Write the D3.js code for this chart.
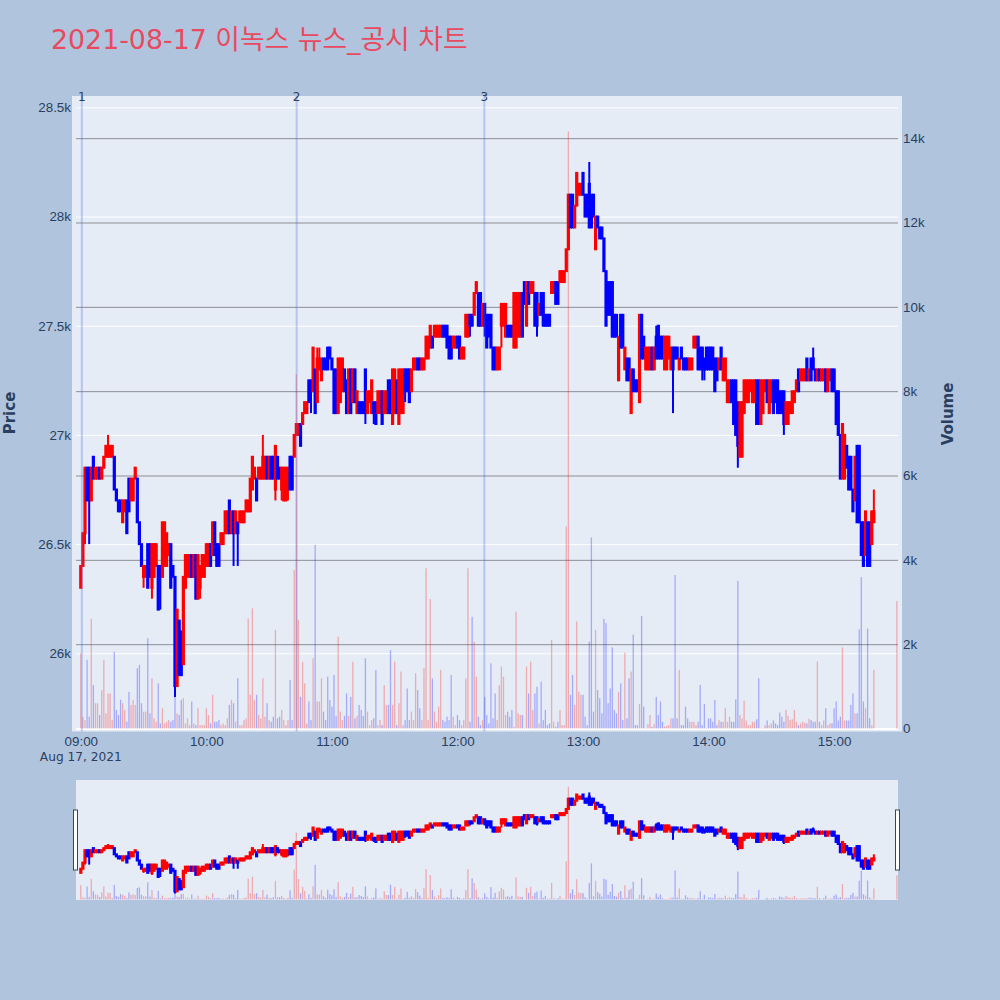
<!DOCTYPE html>
<html><head><meta charset="utf-8">
<script src="https://cdn.jsdelivr.net/npm/d3@7"></script>
<style>
body{margin:0;background:#b0c4de;}
svg{display:block;font-family:"DejaVu Sans","Noto Sans CJK KR",sans-serif;}
</style>
</head><body>
<svg id="chart" width="1000" height="1000"></svg>
<script>
// ---------------- DATA ----------------
const title = "2021-08-17 이녹스 뉴스_공시 차트";
const sessionStart = "2021-08-17 09:00";   // first 1-minute candle, then one candle per minute
const lastTime = "2021-08-17 15:30";       // closing auction candle (last entry of each array)

const open = [
26300,26400,26550,26850,26850,26700,26900,26800,26800,26850,
26800,26850,26900,26900,26900,26900,26900,26750,26700,26700,
26600,26650,26700,26800,26700,26700,26800,26800,26600,26500,
26350,26350,26500,26500,26300,26350,26400,26400,26400,26350,
26400,26400,26450,26500,26400,26350,25850,26150,26100,25950,
26300,26350,26350,26450,26350,26450,26250,26300,26350,26350,
26400,26400,26500,26450,26600,26500,26500,26500,26500,26550,
26550,26700,26550,26650,26550,26600,26600,26600,26600,26650,
26650,26650,26750,26800,26800,26800,26800,26800,26800,26900,
26800,26900,26900,26750,26900,26850,26750,26700,26700,26750,
26900,26900,26900,27000,27000,27050,27050,27100,27100,27250,
27250,27200,27300,27150,27300,27250,27350,27350,27400,27400,
27350,27300,27300,27100,27150,27200,27300,27250,27100,27300,
27150,27300,27100,27150,27150,27150,27300,27100,27150,27100,
27150,27150,27100,27100,27200,27100,27100,27250,27250,27050,
27100,27250,27050,27100,27100,27300,27300,27300,27200,27300,
27300,27350,27350,27300,27300,27350,27350,27400,27450,27450,
27450,27450,27450,27500,27500,27500,27450,27450,27400,27400,
27450,27450,27350,27350,27450,27450,27550,27550,27550,27650,
27650,27650,27500,27600,27550,27550,27550,27400,27400,27300,
27300,27500,27500,27450,27500,27500,27500,27400,27400,27450,
27450,27650,27700,27500,27700,27650,27650,27650,27650,27550,
27650,27650,27550,27550,27550,27650,27650,27700,27700,27700,
27700,27700,27750,27850,28100,28100,27950,28050,28100,28100,
28200,28100,28100,28150,28100,28100,27850,28000,27950,27950,
27900,27750,27700,27700,27700,27550,27550,27250,27550,27550,
27300,27350,27350,27100,27300,27250,27250,27150,27550,27450,
27300,27300,27300,27400,27300,27450,27500,27450,27450,27300,
27300,27350,27300,27400,27400,27400,27300,27400,27350,27350,
27350,27300,27300,27400,27400,27450,27400,27400,27350,27400,
27400,27400,27400,27350,27350,27300,27400,27250,27250,27150,
27150,27250,27250,27250,27150,26900,26900,27100,27150,27150,
27200,27150,27150,27250,27250,27050,27100,27200,27250,27100,
27150,27250,27250,27250,27200,27200,27200,27050,27050,27100,
27100,27150,27200,27300,27250,27250,27250,27350,27250,27350,
27350,27300,27250,27300,27250,27250,27300,27200,27250,27300,
27300,27200,27200,27000,26800,26800,26950,26900,26900,26750,
26700,26950,26950,26600,26600,26450,26600,26600,26500,26600,
26700];

const high = [
26400,26550,26850,26850,26850,26850,26900,26850,26850,26850,
26850,26900,26950,27000,26950,26950,26900,26750,26700,26700,
26700,26700,26700,26800,26800,26800,26850,26800,26600,26500,
26400,26400,26500,26500,26500,26500,26500,26400,26400,26600,
26600,26550,26500,26500,26400,26350,26200,26150,26100,26350,
26450,26450,26450,26450,26450,26450,26450,26400,26450,26450,
26500,26500,26500,26600,26600,26500,26500,26550,26550,26650,
26650,26700,26650,26650,26650,26600,26650,26650,26650,26700,
26700,26800,26900,26850,26800,26850,26850,27000,26900,26900,
26900,26900,26900,26950,26900,26850,26850,26850,26850,26850,
26900,26900,27000,27050,27050,27050,27100,27150,27150,27250,
27250,27400,27300,27400,27400,27350,27350,27350,27400,27400,
27350,27300,27300,27350,27350,27350,27300,27250,27300,27300,
27300,27300,27200,27150,27150,27150,27300,27200,27200,27250,
27150,27150,27200,27200,27200,27200,27200,27250,27250,27300,
27300,27250,27300,27300,27300,27300,27300,27300,27300,27350,
27350,27350,27350,27350,27350,27450,27450,27500,27450,27500,
27500,27500,27500,27500,27500,27500,27450,27450,27450,27450,
27450,27450,27400,27400,27550,27550,27550,27550,27650,27700,
27650,27650,27600,27600,27550,27550,27550,27400,27400,27400,
27400,27600,27600,27600,27500,27500,27500,27650,27650,27650,
27650,27650,27700,27700,27700,27700,27700,27650,27650,27600,
27650,27650,27550,27550,27550,27700,27700,27700,27700,27750,
27750,27750,27850,28100,28100,28100,28050,28200,28150,28150,
28200,28100,28100,28250,28100,28100,28000,28000,27950,27950,
27900,27750,27700,27700,27700,27550,27550,27450,27550,27550,
27400,27350,27350,27300,27300,27250,27250,27550,27550,27450,
27400,27400,27400,27400,27400,27500,27500,27450,27450,27450,
27450,27450,27400,27400,27400,27400,27350,27400,27350,27350,
27350,27350,27350,27450,27450,27450,27400,27400,27350,27400,
27400,27400,27400,27350,27350,27350,27400,27350,27350,27250,
27250,27250,27250,27250,27150,27150,27150,27250,27250,27250,
27250,27250,27250,27250,27250,27250,27250,27250,27250,27250,
27250,27250,27250,27250,27200,27200,27200,27150,27150,27150,
27200,27200,27250,27300,27300,27300,27300,27350,27300,27350,
27400,27300,27300,27300,27300,27300,27300,27300,27300,27300,
27300,27200,27200,27000,27050,27000,26950,26900,26900,26750,
26900,26950,26950,26600,26600,26650,26600,26600,26650,26750,
26700];

const low = [
26300,26400,26500,26700,26500,26700,26800,26800,26800,26800,
26800,26850,26900,26900,26900,26900,26750,26700,26650,26650,
26600,26650,26550,26650,26700,26700,26800,26600,26500,26400,
26300,26350,26300,26350,26250,26350,26400,26200,26200,26350,
26400,26400,26450,26300,26350,25800,25850,25900,25900,25950,
26300,26350,26350,26350,26350,26250,26250,26250,26350,26350,
26400,26400,26400,26450,26450,26400,26400,26500,26500,26550,
26550,26550,26550,26400,26550,26400,26600,26600,26600,26650,
26650,26650,26750,26800,26700,26800,26800,26800,26800,26800,
26800,26800,26800,26700,26800,26800,26700,26700,26700,26700,
26750,26750,26900,27000,27000,26950,27050,27100,27100,27150,
27100,27200,27100,27150,27300,27250,27300,27300,27300,27350,
27300,27100,27100,27100,27150,27200,27200,27100,27100,27100,
27150,27150,27100,27100,27100,27100,27050,27100,27150,27100,
27050,27050,27100,27100,27050,27100,27100,27100,27100,27050,
27100,27100,27050,27100,27100,27150,27200,27150,27200,27300,
27300,27300,27300,27300,27300,27350,27350,27400,27400,27450,
27450,27450,27450,27450,27450,27400,27350,27350,27400,27400,
27400,27350,27350,27350,27450,27450,27450,27500,27550,27650,
27500,27500,27500,27450,27400,27450,27400,27300,27300,27300,
27300,27400,27500,27450,27450,27450,27450,27400,27400,27450,
27450,27450,27600,27500,27600,27650,27650,27500,27450,27550,
27550,27500,27500,27500,27500,27650,27650,27600,27600,27700,
27700,27700,27750,27850,27950,27950,27950,28050,28100,28100,
28100,28000,28000,27950,27950,28000,27850,27950,27900,27900,
27750,27500,27550,27550,27450,27450,27450,27250,27400,27400,
27300,27250,27250,27100,27200,27200,27200,27150,27350,27350,
27300,27300,27300,27300,27300,27350,27350,27350,27350,27300,
27300,27350,27300,27100,27350,27350,27300,27350,27300,27300,
27300,27300,27300,27400,27400,27300,27300,27250,27250,27300,
27300,27300,27300,27200,27250,27300,27300,27250,27250,27150,
27150,27150,27050,27000,26850,26900,26900,27100,27150,27150,
27200,27150,27150,27050,27050,27050,27100,27200,27150,27100,
27150,27100,27150,27100,27100,27100,27000,27050,27050,27100,
27100,27150,27200,27200,27250,27250,27250,27250,27250,27250,
27300,27250,27250,27250,27250,27250,27200,27200,27250,27200,
27200,27050,27000,26800,26800,26800,26850,26750,26750,26650,
26700,26600,26600,26450,26400,26450,26400,26400,26500,26600,
26700];

const close = [
26400,26550,26850,26700,26700,26850,26800,26850,26850,26800,
26850,26900,26950,26950,26950,26950,26750,26700,26650,26650,
26700,26700,26550,26650,26800,26800,26850,26600,26500,26400,
26400,26400,26300,26350,26500,26500,26500,26200,26350,26600,
26600,26550,26500,26300,26350,25850,26200,25900,25900,26350,
26450,26450,26450,26350,26450,26250,26450,26400,26450,26450,
26500,26500,26400,26600,26450,26400,26400,26550,26550,26650,
26650,26550,26650,26550,26650,26550,26650,26650,26650,26700,
26700,26800,26900,26850,26700,26850,26850,26900,26900,26800,
26900,26800,26800,26950,26800,26800,26850,26850,26850,26850,
26750,26750,27000,27050,27050,26950,27100,27150,27150,27150,
27200,27400,27100,27350,27350,27350,27300,27300,27300,27350,
27300,27100,27100,27350,27350,27350,27200,27100,27300,27100,
27300,27150,27200,27100,27100,27100,27100,27200,27200,27250,
27100,27050,27200,27200,27050,27200,27200,27100,27100,27300,
27300,27100,27300,27300,27300,27200,27200,27150,27300,27350,
27350,27300,27300,27350,27350,27450,27450,27500,27400,27500,
27500,27500,27500,27450,27450,27400,27350,27350,27450,27450,
27400,27350,27400,27400,27550,27550,27500,27500,27650,27700,
27500,27500,27600,27500,27400,27450,27400,27300,27300,27400,
27400,27600,27600,27600,27450,27450,27450,27650,27650,27650,
27650,27450,27600,27700,27600,27700,27700,27500,27500,27600,
27550,27500,27500,27500,27500,27700,27700,27600,27600,27750,
27750,27750,27850,28100,27950,27950,28050,28200,28150,28150,
28100,28000,28000,27950,27950,28000,28000,27950,27900,27900,
27750,27500,27550,27550,27450,27450,27450,27450,27400,27400,
27400,27250,27250,27300,27200,27200,27200,27550,27350,27350,
27400,27400,27400,27300,27400,27350,27350,27350,27350,27450,
27450,27450,27400,27300,27350,27350,27350,27350,27300,27300,
27300,27350,27350,27450,27450,27300,27300,27300,27300,27300,
27300,27300,27300,27200,27250,27350,27300,27350,27350,27250,
27250,27150,27050,27000,26950,27150,27150,27250,27250,27250,
27250,27250,27250,27050,27050,27250,27250,27250,27150,27250,
27250,27100,27150,27100,27100,27100,27050,27150,27150,27150,
27200,27200,27250,27200,27300,27300,27300,27250,27300,27250,
27300,27250,27300,27250,27300,27300,27200,27300,27300,27200,
27200,27050,27000,26800,27050,27000,26850,26750,26750,26650,
26900,26600,26600,26450,26400,26650,26400,26400,26650,26650,
26700];

const volume = [
1780,280,200,1630,280,2600,1030,600,600,320,
910,1630,360,830,830,200,1820,440,320,680,
600,440,160,870,560,680,560,1430,1510,600,
400,400,2140,360,1190,240,160,1070,120,480,
120,160,200,160,200,990,360,320,680,720,
120,240,80,640,120,80,480,80,80,80,
480,320,120,800,160,160,200,80,120,80,
240,560,680,600,160,1190,80,80,200,240,
2610,800,2850,680,800,320,240,1190,280,600,
200,160,280,2340,240,280,440,200,80,200,
1150,200,3760,8400,2570,750,1580,1070,120,640,
200,1665,4355,640,640,1190,400,200,1230,680,
520,1270,300,2180,400,200,300,830,300,750,
1585,240,300,560,440,300,1665,400,80,200,
240,1390,80,200,80,1030,560,560,1860,560,
1585,80,600,1350,80,200,950,200,400,200,
1310,910,480,200,1430,3800,200,3070,1190,400,
160,520,1390,200,160,280,200,1270,280,80,
320,200,80,200,1190,3800,160,2650,2060,1230,
280,80,200,750,320,120,1545,240,830,200,
1030,1470,1230,320,400,280,440,40,2770,360,
320,320,10,1470,830,1585,440,830,990,120,
1110,200,440,80,120,2100,160,40,160,440,
80,80,4790,14160,800,1270,560,2535,870,800,
800,280,80,2060,4530,400,2335,910,720,360,
2600,2500,600,950,1925,440,360,870,1070,200,
1800,240,1190,1350,2230,80,80,580,2670,520,
10,100,320,40,100,750,320,640,160,50,
60,80,240,240,3640,240,1390,80,80,520,
240,160,160,160,80,160,1030,80,580,10,
240,240,160,680,80,200,160,160,480,160,
280,160,160,690,3500,320,240,660,190,80,
80,160,160,220,1190,10,10,80,190,80,
120,190,120,80,380,280,160,440,300,200,
220,440,160,80,120,160,140,120,230,200,
160,160,1590,160,80,190,480,80,120,120,
480,640,190,280,1920,190,190,190,560,830,
360,360,2350,3590,640,480,2370,240,80,1390,
3025];

const newsTimes = ["2021-08-17 09:00:30", "2021-08-17 10:43:10", "2021-08-17 12:12:50"];
const newsLabels = ["1", "2", "3"];
const priceTicks = [26000, 26500, 27000, 27500, 28000, 28500];
const volumeTicks = [0, 2000, 4000, 6000, 8000, 10000, 12000, 14000];
const xDateLabel = "Aug 17, 2021";

// ---------------- CHART ----------------
[high, low, close, volume].forEach((a, k) => {
  if (a.length !== open.length) throw new Error("array length mismatch " + k + ": " + a.length + " vs " + open.length);
});

const parseM = d3.timeParse("%Y-%m-%d %H:%M");
const parseS = d3.timeParse("%Y-%m-%d %H:%M:%S");
const t0 = parseM(sessionStart);
const n = open.length;
const candles = open.map((o, i) => ({
  t: i < n - 1 ? d3.timeMinute.offset(t0, i) : parseM(lastTime),
  o, h: high[i], l: low[i], c: close[i], v: volume[i]
}));
const colOf = d => d.c >= d.o ? "#ff0000" : "#0000ff";

const svg = d3.select("#chart");
const W = 1000, H = 1000;
svg.append("rect").attr("width", W).attr("height", H).attr("fill", "#b0c4de");

// plot geometry
const P = {l: 76, r: 898, t: 96, b: 731.5};
const x = d3.scaleTime()
  .domain([parseS("2021-08-17 08:57:42"), parseS("2021-08-17 15:30:32")])
  .range([P.l, P.r]);
const yP = d3.scaleLinear().domain([25642, 28552]).range([P.b, P.t]);
const yV = d3.scaleLinear().domain([-71, 15000]).range([P.b, P.t]);

const tickColor = "#2a3f5f";
const FS = 13.4;

// background
svg.append("rect").attr("x", 72).attr("y", P.t).attr("width", 902 - 72).attr("height", P.b - P.t).attr("fill", "#e5ecf6");

// price gridlines (white)
const gPriceAxis = svg.append("g").attr("transform", `translate(${P.l},0)`)
  .call(d3.axisLeft(yP).tickValues(priceTicks).tickFormat(d3.format("~s")).tickSize(-(P.r - P.l)));
gPriceAxis.select(".domain").remove();
gPriceAxis.selectAll(".tick line").attr("stroke", "#ffffff").attr("stroke-width", 1);
gPriceAxis.selectAll(".tick text").attr("fill", tickColor).attr("font-size", FS).attr("x", -5);

// volume gridlines (grey)
const gVolAxis = svg.append("g").attr("transform", `translate(${P.r},0)`)
  .call(d3.axisRight(yV).tickValues(volumeTicks).tickFormat(d3.format("~s")).tickSize(-(P.r - P.l)));
gVolAxis.select(".domain").remove();
gVolAxis.selectAll(".tick line").attr("stroke", d => d === 0 ? "#ffffff" : "#8d8f94").attr("stroke-width", d => d === 0 ? 2 : 1);
gVolAxis.selectAll(".tick text").attr("fill", tickColor).attr("font-size", FS).attr("x", 5);

// volume bars
function drawVolume(g, yS, w, op) {
  g.selectAll("rect").data(candles).join("rect")
    .attr("x", d => x(d.t) - w / 2).attr("width", w)
    .attr("y", d => yS(d.v)).attr("height", d => Math.max(0, yS(0) - yS(d.v)))
    .attr("fill", colOf).attr("fill-opacity", op);
}
drawVolume(svg.append("g"), yV, 1.3, 0.28);

// candles
function drawCandles(g, yS) {
  const cg = g.selectAll("g").data(candles).join("g")
    .attr("stroke", colOf).attr("fill", colOf);
  cg.append("line")
    .attr("x1", d => x(d.t)).attr("x2", d => x(d.t))
    .attr("y1", d => yS(d.h)).attr("y2", d => yS(d.l))
    .attr("stroke-width", 2);
  cg.append("rect")
    .attr("x", d => x(d.t) - 0.6).attr("width", 1.2)
    .attr("y", d => yS(Math.max(d.o, d.c)))
    .attr("height", d => Math.abs(yS(d.o) - yS(d.c)))
    .attr("stroke-width", 2);
}
drawCandles(svg.append("g"), yP);

// news vertical lines
const gNews = svg.append("g");
newsTimes.forEach((s, i) => {
  const xx = x(parseS(s));
  gNews.append("line").attr("x1", xx).attr("x2", xx).attr("y1", P.t).attr("y2", P.b)
    .attr("stroke", "#4169e1").attr("stroke-opacity", 0.3).attr("stroke-width", 2);
  gNews.append("text").attr("x", xx).attr("y", 101).attr("text-anchor", "middle")
    .attr("font-size", 12).attr("fill", tickColor).text(newsLabels[i]);
});

// x axis
const gX = svg.append("g").attr("transform", `translate(0,${P.b})`)
  .call(d3.axisBottom(x).ticks(d3.timeHour.every(1)).tickFormat(d3.timeFormat("%H:%M")).tickSize(0));
gX.select(".domain").remove();
gX.selectAll(".tick text").attr("fill", tickColor).attr("font-size", FS).attr("y", 14.5).attr("dy", 0);
svg.append("text").attr("x", x(t0)).attr("y", 760.5).attr("text-anchor", "middle")
  .attr("fill", tickColor).attr("font-size", 12.2).text(xDateLabel);

// axis titles
svg.append("text").attr("transform", "translate(14.5,413) rotate(-90)").attr("text-anchor", "middle")
  .attr("fill", tickColor).attr("font-size", 15).attr("font-weight", "bold").text("Price");
svg.append("text").attr("transform", "translate(952.5,414) rotate(-90)").attr("text-anchor", "middle")
  .attr("fill", tickColor).attr("font-size", 15).attr("font-weight", "bold").text("Volume");

// title
svg.append("text").attr("x", 51).attr("y", 49).attr("fill", "#e84a5f")
  .attr("font-size", 26.8).text(title);

// ---------------- RANGE SLIDER ----------------
const R = {t: 780, b: 900};
svg.append("rect").attr("x", P.l).attr("y", R.t).attr("width", P.r - P.l).attr("height", R.b - R.t).attr("fill", "#e5ecf6");
const yP2 = d3.scaleLinear().domain(yP.domain()).range([R.b, R.t]);
const yV2 = d3.scaleLinear().domain(yV.domain()).range([R.b, R.t]);
drawVolume(svg.append("g"), yV2, 1.3, 0.28);
drawCandles(svg.append("g"), yP2);
[P.l - 2, P.r - 2].forEach(hx => {
  svg.append("rect").attr("x", hx - 0.5).attr("y", 810).attr("width", 4).attr("height", 60)
    .attr("fill", "#ffffff").attr("stroke", "#444444").attr("stroke-width", 1);
});
</script>
</body></html>
